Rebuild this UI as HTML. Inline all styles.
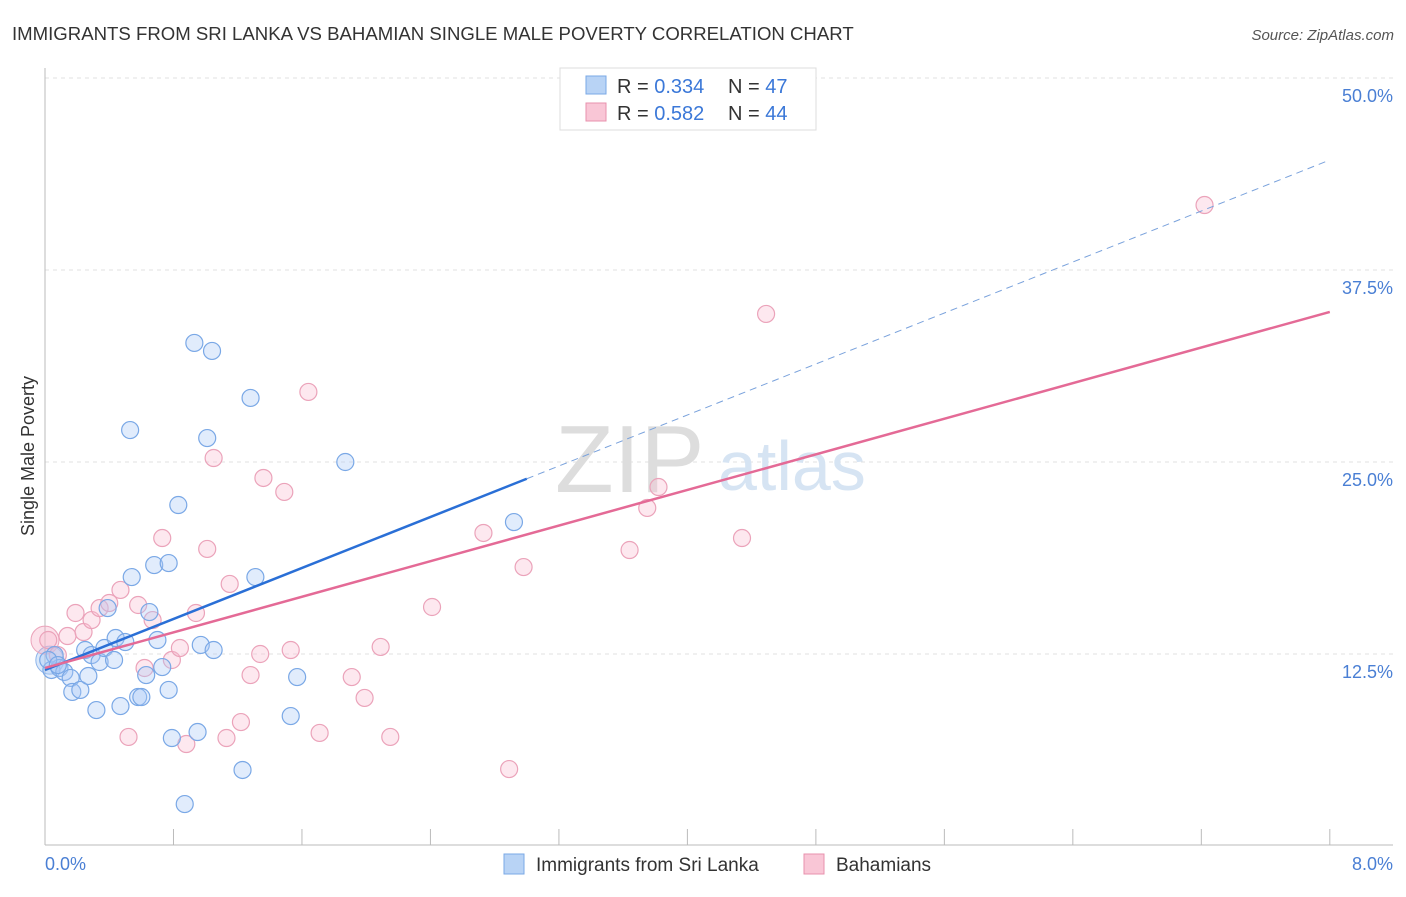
<!DOCTYPE html>
<html><head><meta charset="utf-8"><style>
body{margin:0;background:#fff;font-family:"Liberation Sans",sans-serif}
svg text{font-family:"Liberation Sans",sans-serif}
</style></head><body>
<svg id="c" width="1406" height="892" xmlns="http://www.w3.org/2000/svg">
<text x="12" y="40" font-size="18.6" fill="#333">IMMIGRANTS FROM SRI LANKA VS BAHAMIAN SINGLE MALE POVERTY CORRELATION CHART</text>
<text x="1394" y="40" font-size="15" fill="#555" font-style="italic" text-anchor="end">Source: ZipAtlas.com</text>
<g id="grid"></g>
<text x="555" y="492" font-size="96" fill="#ddd" font-family="Liberation Serif">ZIP</text>
<text x="718" y="490" font-size="70" fill="#d6e4f3">atlas</text>
<g id="pts"></g>
<g id="lines"></g>
<text transform="translate(34,456) rotate(-90)" font-size="18" fill="#333" text-anchor="middle">Single Male Poverty</text>
<text x="45" y="870" font-size="18" fill="#4a7fd4">0.0%</text>
<text x="1393" y="870" font-size="18" fill="#4a7fd4" text-anchor="end">8.0%</text>
<g>
<rect x="560" y="68" width="256" height="62" fill="#fff" stroke="#ddd"/>
<rect x="586" y="76" width="20" height="18" fill="#b8d3f5" stroke="#7aa8e6"/>
<rect x="586" y="103" width="20" height="18" fill="#f9c6d6" stroke="#e891ad"/>
<text x="617" y="93" font-size="20" fill="#333">R = <tspan fill="#3b78d8">0.334</tspan></text>
<text x="728" y="93" font-size="20" fill="#333">N = <tspan fill="#3b78d8">47</tspan></text>
<text x="617" y="120" font-size="20" fill="#333">R = <tspan fill="#3b78d8">0.582</tspan></text>
<text x="728" y="120" font-size="20" fill="#333">N = <tspan fill="#3b78d8">44</tspan></text>
</g>
<g>
<rect x="504" y="854" width="20" height="20" fill="#b8d3f5" stroke="#7aa8e6"/>
<text x="536" y="871" font-size="19" fill="#333">Immigrants from Sri Lanka</text>
<rect x="804" y="854" width="20" height="20" fill="#f9c6d6" stroke="#e891ad"/>
<text x="836" y="871" font-size="19" fill="#333">Bahamians</text>
</g>
</svg>
<script>
const yTicks=[12.5,25.0,37.5,50.0];
const blueX=[0.04,0.06,0.09,0.12,0.16,0.17,0.22,0.25,0.27,0.29,0.32,0.34,0.37,0.39,0.43,0.44,0.47,0.50,0.53,0.54,0.58,0.60,0.63,0.65,0.68,0.70,0.73,0.77,0.77,0.79,0.83,0.87,0.93,0.95,0.97,1.01,1.04,1.05,1.23,1.28,1.31,1.53,1.57,1.87,2.92,0.02,0.08];
const blueY=[11.46,12.43,11.59,11.33,10.94,10.03,10.16,12.76,11.07,12.43,8.85,11.98,12.89,15.49,12.11,13.54,9.11,13.28,27.08,17.51,9.70,9.70,11.13,15.23,18.29,13.41,11.65,18.42,10.16,7.03,22.20,2.73,32.75,7.42,13.09,26.56,32.23,12.76,4.95,29.17,17.51,8.46,11.00,25.00,21.09,12.11,11.78];
const pinkX=[0.02,0.08,0.14,0.19,0.24,0.29,0.34,0.40,0.47,0.52,0.58,0.62,0.67,0.73,0.79,0.84,0.88,0.94,1.01,1.05,1.13,1.15,1.22,1.28,1.34,1.36,1.49,1.53,1.64,1.71,1.91,1.99,2.09,2.15,2.41,2.73,2.89,2.98,3.64,3.75,3.82,4.34,4.49,7.22];
const pinkY=[13.41,12.43,13.67,15.17,13.93,14.71,15.49,15.82,16.67,7.10,15.69,11.59,14.71,20.05,12.11,12.89,6.64,15.17,19.34,25.26,7.03,17.06,8.07,11.13,12.50,23.96,23.05,12.76,29.56,7.36,11.00,9.64,12.96,7.10,15.56,20.38,5.01,18.16,19.27,22.01,23.37,20.05,34.64,41.73];
const blueTrend=[11.46,44.66];const blueSolidEnd=3.0;
const pinkTrend=[11.59,34.77];
const NS="http://www.w3.org/2000/svg";
const X=v=>45+v*160.6, Y=v=>846-v*15.36;
function mk(t,a,p){const e=document.createElementNS(NS,t);for(const k in a)e.setAttribute(k,a[k]);p.appendChild(e);return e;}
const g=document.getElementById('grid');
yTicks.forEach(t=>{
 const l=mk('line',{x1:45,x2:1393,y1:Y(t),y2:Y(t),stroke:'#e2e2e2','stroke-dasharray':'4,4'},g);
 
 
 const tx=mk('text',{x:1393,y:Y(t)+24,'font-size':18,fill:'#4a7fd4','text-anchor':'end'},g);
 tx.textContent=t.toFixed(1)+'%';
 
 
});
const ax=mk('line',{x1:45,x2:1393,y1:845,y2:845,stroke:'#bbb'},g);


const ay=mk('line',{x1:45,x2:45,y1:68,y2:845,stroke:'#bbb'},g);


for(let i=0;i<=10;i++){const t=mk('line',{x1:X(i*0.8),x2:X(i*0.8),y1:829,y2:845,stroke:'#bbb'},g);
 
 }
const p=document.getElementById('pts');
let c=mk('circle',{cx:X(0.03),cy:Y(12.1),r:14,fill:'rgba(150,190,240,0.35)',stroke:'#8cb4ea'},p);


c=mk('circle',{cx:X(0.0),cy:Y(13.4),r:14,fill:'rgba(245,170,195,0.35)',stroke:'#eba3ba'},p);


pinkX.forEach((x,i)=>{const e=mk('circle',{cx:X(x),cy:Y(pinkY[i]),r:8.5,fill:'rgba(248,190,210,0.35)',stroke:'#eba3ba','stroke-width':1.2},p);
 
 });
blueX.forEach((x,i)=>{const e=mk('circle',{cx:X(x),cy:Y(blueY[i]),r:8.5,fill:'rgba(170,200,245,0.35)',stroke:'#7aa8e6','stroke-width':1.2},p);
 
 });
const L=document.getElementById('lines');
const bAt=x=>blueTrend[0]+(blueTrend[1]-blueTrend[0])*x/8;
let l=mk('line',{x1:X(0),y1:Y(bAt(0)),x2:X(blueSolidEnd),y2:Y(bAt(blueSolidEnd)),stroke:'#2a6fd6','stroke-width':2.5},L);


l=mk('line',{x1:X(blueSolidEnd),y1:Y(bAt(blueSolidEnd)),x2:X(8),y2:Y(bAt(8)),stroke:'#7aa2dc','stroke-width':1,'stroke-dasharray':'7,5'},L);


l=mk('line',{x1:X(0),y1:Y(pinkTrend[0]),x2:X(8),y2:Y(pinkTrend[1]),stroke:'#e46a96','stroke-width':2.5},L);


</script>
</body></html>
